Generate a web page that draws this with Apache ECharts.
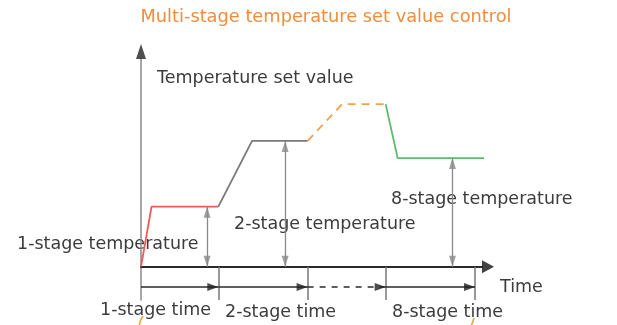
<!DOCTYPE html>
<html>
<head>
<meta charset="utf-8">
<script src="https://cdn.jsdelivr.net/npm/echarts@6/dist/echarts.min.js"></script>
<style>
  html, body { margin: 0; padding: 0; background: #fff; }
  #chart { width: 617px; height: 325px; }
</style>
</head>
<body>
<div id="chart"></div>
<script>
// ---- profile data (time units, temperature units) ----
const stageEdges = [22, 47.4, 69.6, 95];          // stage boundary times
const stage1Time = [0, 3, 22];
const stage1Temp = [0, 27, 27];
const stage2Time = [22, 31.6, 47.4];
const stage2Temp = [27, 56.6, 56.6];
const middleTime = [47.4, 57.2, 69.6];             // stages 3..7 (dashed)
const middleTemp = [56.6, 73.2, 73.2];
const stage8Time = [69.6, 73, 98.1];
const stage8Temp = [73.2, 48.9, 48.9];

// temperature dimension arrows: time position and the level they measure
const tempArrowTime = [18.8, 41, 88.6];
const tempArrowTemp = [27, 56.6, 48.9];

// time dimension arrows along the lower band
const timeArrowLevel = -9.1;
const timeArrowFrom = [0, 22, 47.4, 69.6];
const timeArrowTo   = [22, 47.4, 69.6, 95];
const timeArrowDashed = [false, false, true, false];

const xMax = 97, yMin = -15, yMax = 93.5;

const FONT = '17.5px "DejaVu Sans"';
const TEXT = '#3c3c3c';

function pairs(xs, ys) { return xs.map((x, i) => [x, ys[i]]); }

// screen direction of an arrowhead -> rotation of the upward triangle symbol
const DIRS = {
  up:    { rot: 0,   dx: 0,  dy: -1 },
  down:  { rot: 180, dx: 0,  dy: 1 },
  right: { rot: -90, dx: 1,  dy: 0 }
};

// triangle arrowhead; tip on the point, or (fromBase) base on the point
function head(pt, dir, color, w, h, fromBase) {
  const d = DIRS[dir];
  const s = fromBase ? 1 : -1;
  return {
    value: pt,
    symbol: 'triangle',
    symbolSize: [w, h],
    symbolRotate: d.rot,
    symbolOffset: [s * d.dx * h / 2, s * d.dy * h / 2],
    itemStyle: { color: color }
  };
}

const tickSegments = stageEdges.map(t => ({ coords: [[t, 0], [t, yMin]] }));
const tempShafts = tempArrowTime.map((t, i) => ({ coords: [[t, 0], [t, tempArrowTemp[i]]] }));
const timeSolid = [], timeDashed = [];
timeArrowFrom.forEach((a, i) => {
  const seg = { coords: [[a, timeArrowLevel], [timeArrowTo[i], timeArrowLevel]] };
  (timeArrowDashed[i] ? timeDashed : timeSolid).push(seg);
});

const heads = [];
tempArrowTime.forEach((t, i) => {
  heads.push(head([t, tempArrowTemp[i]], 'up', '#8a8a8a', 7, 11));
  heads.push(head([t, 0], 'down', '#8a8a8a', 7, 11));
});
timeArrowTo.forEach(t => heads.push(head([t, timeArrowLevel], 'right', '#1f1f1f', 8, 11)));
// axis arrowheads sit beyond the axis ends
heads.push(head([0, yMax], 'up', '#222', 10, 15, true));
heads.push(head([xMax, 0], 'right', '#111', 13, 12, true));

const chart = echarts.init(document.getElementById('chart'), null, { renderer: 'canvas' });

const lineBase = { type: 'line', symbol: 'none', clip: false, silent: true, animation: false };
const segBase = { type: 'lines', coordinateSystem: 'cartesian2d', silent: true, animation: false };

chart.setOption({
  animation: false,
  backgroundColor: '#fff',
  grid: { left: 141, top: 59, width: 341, height: 241 },
  xAxis: {
    type: 'value', min: 0, max: xMax,
    axisLine: { show: true, onZero: true, lineStyle: { color: '#2a2a2a', width: 2 } },
    axisTick: { show: false }, axisLabel: { show: false }, splitLine: { show: false }
  },
  yAxis: {
    type: 'value', min: yMin, max: yMax,
    axisLine: { show: true, lineStyle: { color: '#8a8a8a', width: 1.5 } },
    axisTick: { show: false }, axisLabel: { show: false }, splitLine: { show: false }
  },
  series: [
    Object.assign({}, lineBase, { data: pairs(stage1Time, stage1Temp), lineStyle: { color: '#ec5a55', width: 1.8 } }),
    Object.assign({}, lineBase, { data: pairs(stage2Time, stage2Temp), lineStyle: { color: '#7a7a7a', width: 1.8 } }),
    Object.assign({}, lineBase, { data: pairs(middleTime, middleTemp), lineStyle: { color: '#f5a04a', width: 1.8, type: [8, 6] } }),
    Object.assign({}, lineBase, { data: pairs(stage8Time, stage8Temp), lineStyle: { color: '#5dbb6e', width: 1.8 } }),
    Object.assign({}, segBase, { data: tickSegments, lineStyle: { color: '#777', width: 1.5, opacity: 1 } }),
    Object.assign({}, segBase, { data: tempShafts, lineStyle: { color: '#8a8a8a', width: 1.3, opacity: 1 } }),
    Object.assign({}, segBase, { data: timeSolid, lineStyle: { color: '#2a2a2a', width: 1.5, opacity: 1 } }),
    Object.assign({}, segBase, { data: timeDashed, lineStyle: { color: '#2a2a2a', width: 1.5, type: [6, 6], opacity: 1 } }),
    { type: 'scatter', clip: false, silent: true, animation: false, z: 5, data: heads }
  ],
  graphic: [
    { type: 'text', x: 326, y: 17, style: { text: 'Multi-stage temperature set value control', font: '17.8px "DejaVu Sans"', fill: '#f28c3c', align: 'center', verticalAlign: 'middle' } },
    { type: 'text', x: 157, y: 78, style: { text: 'Temperature set value', font: FONT, fill: TEXT, verticalAlign: 'middle' } },
    { type: 'text', x: 17, y: 244, style: { text: '1-stage temperature', font: FONT, fill: TEXT, verticalAlign: 'middle' } },
    { type: 'text', x: 234, y: 224, style: { text: '2-stage temperature', font: FONT, fill: TEXT, verticalAlign: 'middle' } },
    { type: 'text', x: 391, y: 199, style: { text: '8-stage temperature', font: FONT, fill: TEXT, verticalAlign: 'middle' } },
    { type: 'text', x: 500, y: 287, style: { text: 'Time', font: FONT, fill: TEXT, verticalAlign: 'middle' } },
    { type: 'text', x: 100, y: 310, style: { text: '1-stage time', font: FONT, fill: TEXT, verticalAlign: 'middle' } },
    { type: 'text', x: 225, y: 312, style: { text: '2-stage time', font: FONT, fill: TEXT, verticalAlign: 'middle' } },
    { type: 'text', x: 392, y: 312, style: { text: '8-stage time', font: FONT, fill: TEXT, verticalAlign: 'middle' } },
    { type: 'bezierCurve', shape: { x1: 143, y1: 316, cpx1: 140, cpy1: 320, x2: 139, y2: 326 }, style: { stroke: '#f5a04a', lineWidth: 1.5, fill: null } },
    { type: 'bezierCurve', shape: { x1: 474, y1: 318, cpx1: 473, cpy1: 322, x2: 471, y2: 326 }, style: { stroke: '#f5a04a', lineWidth: 1.5, fill: null } }
  ]
});
</script>
</body>
</html>
